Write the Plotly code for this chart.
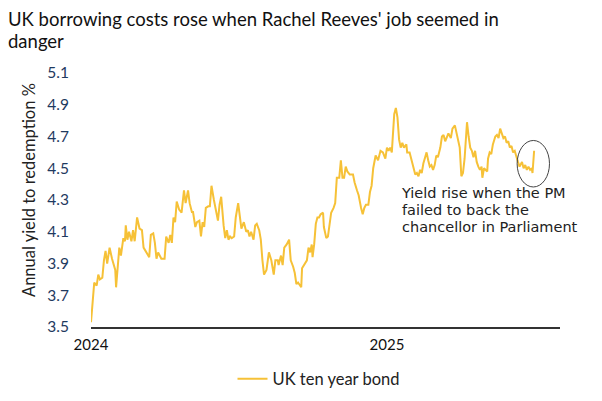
import plotly.graph_objects as go

title_lines = ["UK borrowing costs rose when Rachel Reeves' job seemed in", "danger"]
series_name = "UK ten year bond"
y_title = "Annual yield to redemption %"
note_lines = ["Yield rise when the PM", "failed to back the", "chancellor in Parliament"]

x_tick_vals = ["2024-01-01", "2025-01-01"]
x_tick_text = ["2024", "2025"]
y_tick_vals = [3.5, 3.7, 3.9, 4.1, 4.3, 4.5, 4.7, 4.9, 5.1]
y_tick_text = ["3.5", "3.7", "3.9", "4.1", "4.3", "4.5", "4.7", "4.9", "5.1"]

dates = [
    "2024-01-01", "2024-01-03", "2024-01-05", "2024-01-08", "2024-01-10", "2024-01-12", "2024-01-15",
    "2024-01-17", "2024-01-19", "2024-01-21", "2024-01-24", "2024-01-27", "2024-01-31",
    "2024-02-01", "2024-02-03", "2024-02-05", "2024-02-07", "2024-02-10", "2024-02-12", "2024-02-13",
    "2024-02-15", "2024-02-17", "2024-02-20", "2024-02-22", "2024-02-24", "2024-02-27",
    "2024-03-01", "2024-03-04", "2024-03-06", "2024-03-10", "2024-03-13", "2024-03-15", "2024-03-18",
    "2024-03-20", "2024-03-22", "2024-03-24", "2024-03-26", "2024-03-28",
    "2024-04-01", "2024-04-03", "2024-04-06", "2024-04-08", "2024-04-10", "2024-04-12", "2024-04-14",
    "2024-04-16", "2024-04-19", "2024-04-22", "2024-04-25", "2024-04-27", "2024-04-30",
    "2024-05-02", "2024-05-05", "2024-05-06", "2024-05-09", "2024-05-11", "2024-05-14", "2024-05-16",
    "2024-05-18", "2024-05-20", "2024-05-22", "2024-05-25", "2024-05-27", "2024-05-29",
    "2024-06-01", "2024-06-04", "2024-06-06", "2024-06-08", "2024-06-10", "2024-06-13", "2024-06-15",
    "2024-06-17", "2024-06-19", "2024-06-21", "2024-06-23", "2024-06-26", "2024-06-28",
    "2024-07-01", "2024-07-03", "2024-07-05", "2024-07-08", "2024-07-11", "2024-07-13", "2024-07-15",
    "2024-07-17", "2024-07-20", "2024-07-22", "2024-07-24", "2024-07-27", "2024-07-29", "2024-07-31",
    "2024-08-02", "2024-08-05", "2024-08-08", "2024-08-11", "2024-08-14", "2024-08-16", "2024-08-19",
    "2024-08-20", "2024-08-23", "2024-08-25", "2024-08-27", "2024-08-30",
    "2024-09-02", "2024-09-04", "2024-09-07", "2024-09-09", "2024-09-11", "2024-09-13", "2024-09-17",
    "2024-09-18", "2024-09-21", "2024-09-24", "2024-09-26", "2024-09-28", "2024-09-30",
    "2024-10-01", "2024-10-03", "2024-10-05", "2024-10-07", "2024-10-09", "2024-10-11", "2024-10-14",
    "2024-10-15", "2024-10-18", "2024-10-20", "2024-10-22", "2024-10-24", "2024-10-27", "2024-10-29",
    "2024-10-31",
    "2024-11-03", "2024-11-05", "2024-11-07", "2024-11-09", "2024-11-11", "2024-11-13", "2024-11-16",
    "2024-11-20", "2024-11-22", "2024-11-25", "2024-11-27", "2024-11-30",
    "2024-12-02", "2024-12-04", "2024-12-06", "2024-12-09", "2024-12-11", "2024-12-13", "2024-12-15",
    "2024-12-18", "2024-12-21", "2024-12-24", "2024-12-27", "2024-12-30",
    "2025-01-01", "2025-01-03", "2025-01-05", "2025-01-07", "2025-01-10", "2025-01-12", "2025-01-14",
    "2025-01-16", "2025-01-18", "2025-01-20", "2025-01-22", "2025-01-25", "2025-01-26", "2025-01-29",
    "2025-02-01", "2025-02-03", "2025-02-05", "2025-02-07", "2025-02-09", "2025-02-11", "2025-02-13",
    "2025-02-15", "2025-02-17", "2025-02-19", "2025-02-21", "2025-02-23", "2025-02-25", "2025-02-27",
    "2025-03-01", "2025-03-03", "2025-03-05", "2025-03-08", "2025-03-10", "2025-03-12", "2025-03-14",
    "2025-03-16", "2025-03-18", "2025-03-21", "2025-03-23", "2025-03-26", "2025-03-28", "2025-03-30",
    "2025-04-01", "2025-04-03", "2025-04-05", "2025-04-07", "2025-04-10", "2025-04-12", "2025-04-14",
    "2025-04-16", "2025-04-18", "2025-04-20", "2025-04-22", "2025-04-24", "2025-04-26", "2025-04-28",
    "2025-04-29",
    "2025-05-01", "2025-05-03", "2025-05-05", "2025-05-06", "2025-05-08", "2025-05-10", "2025-05-12",
    "2025-05-15", "2025-05-17", "2025-05-19", "2025-05-21", "2025-05-23", "2025-05-25", "2025-05-27",
    "2025-05-29", "2025-05-31",
    "2025-06-02", "2025-06-04", "2025-06-06", "2025-06-08", "2025-06-10", "2025-06-12", "2025-06-14",
    "2025-06-17", "2025-06-19", "2025-06-21", "2025-06-23", "2025-06-25", "2025-06-27", "2025-06-29",
    "2025-06-30",
    "2025-07-02",
]

yields = [
    3.53, 3.65, 3.78, 3.76, 3.83, 3.80, 3.81, 3.92, 3.98, 3.90, 4.00, 3.93, 3.86,
    3.75, 3.90, 4.00, 3.95, 4.06, 4.04, 4.14, 4.05, 4.10, 4.04, 4.11, 4.04, 4.19,
    4.12, 4.11, 4.00, 3.97, 3.94, 4.08, 4.09, 4.03, 3.93, 3.97, 3.95, 3.93,
    3.93, 4.07, 4.03, 4.08, 4.03, 4.19, 4.16, 4.29, 4.24, 4.22, 4.36, 4.28, 4.36,
    4.28, 4.22, 4.23, 4.13, 4.16, 4.17, 4.07, 4.16, 4.13, 4.25, 4.26, 4.26, 4.39,
    4.30, 4.22, 4.17, 4.27, 4.32, 4.14, 4.06, 4.11, 4.05, 4.07, 4.06, 4.07, 4.19,
    4.28, 4.19, 4.12, 4.16, 4.10, 4.11, 4.07, 4.10, 4.05, 4.14, 4.15, 4.11, 4.05, 3.92,
    3.83, 3.86, 3.97, 3.92, 3.83, 3.92, 3.92, 3.89, 3.95, 3.89, 4.00, 4.02,
    4.05, 3.92, 3.88, 3.84, 3.77, 3.78, 3.75, 3.87, 3.90, 3.92, 4.00, 3.97, 4.02,
    3.94, 4.02, 4.15, 4.19, 4.19, 4.21, 4.22, 4.13, 4.06, 4.07, 4.15, 4.22, 4.25, 4.28, 4.44,
    4.44, 4.55, 4.44, 4.44, 4.51, 4.48, 4.46, 4.46, 4.41, 4.36, 4.33, 4.25,
    4.21, 4.25, 4.27, 4.27, 4.35, 4.39, 4.50, 4.58, 4.55, 4.61, 4.60, 4.56,
    4.63, 4.61, 4.63, 4.60, 4.84, 4.88, 4.82, 4.68, 4.63, 4.66, 4.63, 4.65, 4.60, 4.60,
    4.54, 4.50, 4.46, 4.47, 4.45, 4.49, 4.47, 4.53, 4.57, 4.60, 4.55, 4.51, 4.52, 4.49,
    4.52, 4.58, 4.57, 4.63, 4.70, 4.71, 4.67, 4.69, 4.72, 4.69, 4.75, 4.77, 4.72, 4.68,
    4.63, 4.45, 4.47, 4.56, 4.79, 4.70, 4.63, 4.61, 4.57, 4.61, 4.54, 4.51, 4.49, 4.51, 4.44,
    4.50, 4.49, 4.48, 4.56, 4.60, 4.59, 4.65, 4.70, 4.71, 4.69, 4.75, 4.72, 4.69, 4.70, 4.66, 4.67,
    4.63, 4.64, 4.60, 4.61, 4.57, 4.54, 4.51, 4.54, 4.50, 4.52, 4.49, 4.51, 4.49, 4.50, 4.47,
    4.61,
]

FONT = "Lato, 'Open Sans', sans-serif"
NOTE_FONT = "'DejaVu Sans', 'Open Sans', sans-serif"
LINE_COLOR = "#f6c137"

# The page body adds an 8px offset; the figure is sized so it ends at the window edge.
FIG_W, FIG_H = 594, 393
L, R, T, B = 83, 42, 65, 74
W, H = FIG_W - L - R, FIG_H - T - B


def px_x(px):
    return (px - L) / W


def px_y(py):
    return (FIG_H - B - py) / H


fig = go.Figure()
fig.add_trace(go.Scatter(
    x=dates, y=yields, mode="lines", name=series_name,
    line=dict(color=LINE_COLOR, width=2),
))

fig.update_layout(
    width=FIG_W, height=FIG_H,
    margin=dict(l=L, r=R, t=T, b=B, autoexpand=False),
    paper_bgcolor="white", plot_bgcolor="white",
    font=dict(family=FONT, color="#222222"),
    showlegend=True,
    legend=dict(
        orientation="h", x=224.5 / FIG_W, xanchor="left", xref="container",
        y=(FIG_H - 371) / FIG_H, yanchor="middle", yref="container",
        font=dict(size=16.5, color="#222222", family=FONT),
        bgcolor="rgba(0,0,0,0)",
    ),
    xaxis=dict(
        type="date", range=["2024-01-01", "2025-08-03"],
        tickvals=x_tick_vals, ticktext=x_tick_text,
        showgrid=False, zeroline=False, automargin=False,
        showline=True, linecolor="#333333", linewidth=1.5,
        ticks="outside", ticklen=3, tickcolor="rgba(0,0,0,0)",
        tickfont=dict(size=15, color="#111111", family=FONT),
    ),
    yaxis=dict(
        range=[3.5, 5.1], tickvals=y_tick_vals, ticktext=y_tick_text,
        showgrid=False, zeroline=False, showline=False, automargin=False,
        ticks="outside", ticklen=18, tickcolor="rgba(0,0,0,0)",
        tickfont=dict(size=15.5, color="#1f3a5f", family=FONT),
    ),
)

# title: two lines
title_html = "<br>".join(f"<span style='font-size:18.5px'>{t}</span>" for t in title_lines)
fig.add_annotation(
    xref="paper", yref="paper", x=px_x(-2), y=px_y(-2),
    xanchor="left", yanchor="top", showarrow=False, align="left",
    text=title_html, font=dict(size=17.3, color="#111111", family=FONT),
)

# y-axis title
fig.add_annotation(
    xref="paper", yref="paper", x=px_x(21), y=px_y(182),
    xanchor="center", yanchor="middle", showarrow=False, textangle=-90,
    text=y_title, font=dict(size=16.5, color="#222222", family=FONT),
)

# note text
note_html = "<br>".join(f"<span style='font-size:14.5px'>{t}</span>" for t in note_lines)
fig.add_annotation(
    xref="paper", yref="paper", x=px_x(391), y=px_y(175),
    xanchor="left", yanchor="top", showarrow=False, align="left",
    text=note_html, font=dict(size=13.1, color="#222222", family=NOTE_FONT),
)

fig.add_shape(
    type="circle", xref="x", yref="y",
    x0="2025-06-11", x1="2025-07-21", y0=4.382, y1=4.675,
    line=dict(color="#444444", width=1),
)

fig.write_html("out.html")
